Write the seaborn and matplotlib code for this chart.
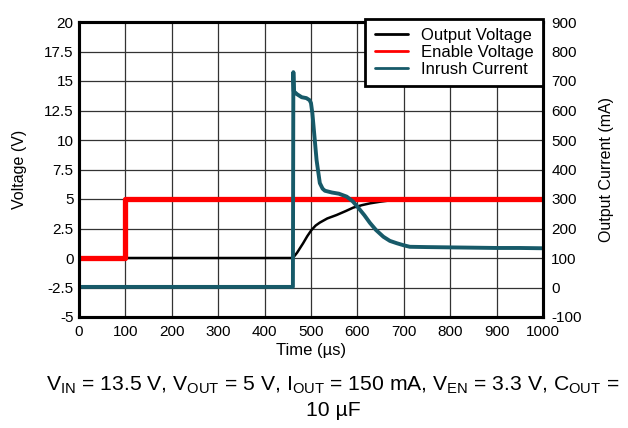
import numpy as np
import pandas as pd
import matplotlib
matplotlib.use("Agg")
import matplotlib.pyplot as plt
import seaborn as sns

# data read from the scope capture
out_t = [0, 461, 470, 483, 492, 501, 510, 519, 535, 555, 575, 591, 610, 627, 649, 670, 700, 1000]
out_v = [0, 0, 0.45, 1.25, 1.85, 2.37, 2.75, 3.0, 3.35, 3.64, 3.98, 4.27, 4.48, 4.63, 4.77, 4.88, 4.95, 4.97]

en_t = [0, 100, 100, 1000]
en_v = [0.03, 0.03, 5.0, 5.0]

inr_t = [0, 461, 462, 463, 470, 480, 490, 497, 500, 503, 507, 512, 519, 525, 530, 545, 560, 577,
         590, 600, 615, 627, 640, 656, 670, 685, 700, 713, 750, 800, 850, 900, 950, 1000]
inr_i = [2, 2, 730, 665, 655, 645, 642, 635, 625, 590, 520, 432, 354, 335, 328, 322, 318, 308,
         292, 274, 245, 219, 195, 172, 158, 150, 143, 138, 137, 136, 135, 134, 134, 133]

v_ticks = [20, 17.5, 15, 12.5, 10, 7.5, 5, 2.5, 0, -2.5, -5]
i_ticks = [900, 800, 700, 600, 500, 400, 300, 200, 100, 0, -100]
t_ticks = list(range(0, 1001, 100))

sns.set_theme(style="white")
plt.rcParams["font.family"] = ["Liberation Sans", "DejaVu Sans"]
plt.rcParams["mathtext.fontset"] = "custom"
plt.rcParams["mathtext.rm"] = "Liberation Sans"
plt.rcParams["mathtext.it"] = "Liberation Sans"
plt.rcParams["text.color"] = "black"
plt.rcParams["axes.labelcolor"] = "black"
plt.rcParams["xtick.color"] = "black"
plt.rcParams["ytick.color"] = "black"
plt.rcParams["axes.unicode_minus"] = False

fig = plt.figure(figsize=(6.28, 4.28), dpi=100)
ax = fig.add_axes([79 / 628, 1 - 317 / 428, (543 - 79) / 628, (317 - 22) / 428])
ax2 = ax.twinx()

teal = "#175a69"
sns.lineplot(x=out_t, y=out_v, ax=ax, color="black", lw=1.8, estimator=None, sort=False, label="Output Voltage")
sns.lineplot(x=en_t, y=en_v, ax=ax, color="#ff0000", lw=3.8, estimator=None, sort=False, label="Enable Voltage")
sns.lineplot(x=inr_t, y=inr_i, ax=ax2, color=teal, lw=2.8, estimator=None, sort=False, label="Inrush Current")

ax.set_xlim(0, 1000)
ax.set_ylim(-5, 20)
ax2.set_ylim(-100, 900)
ax.set_xticks(t_ticks)
ax.set_yticks(v_ticks)
ax.set_yticklabels([f"{v:g}" for v in v_ticks])
ax2.set_yticks(i_ticks)
ax.grid(True, color="#333333", lw=0.9)
ax.set_axisbelow(True)
for a in (ax, ax2):
    a.tick_params(length=0, labelsize=11)
    for s in a.spines.values():
        s.set_color("black")
        s.set_linewidth(2.2)
ax.tick_params(axis="x", pad=6)
ax.tick_params(axis="y", pad=4)
ax2.tick_params(axis="y", pad=6)

ax.set_xlabel("Time (µs)", fontsize=12, labelpad=3)
ax.set_ylabel("Voltage (V)", fontsize=11.5, labelpad=12)
ax2.set_ylabel("Output Current (mA)", fontsize=11.5, labelpad=12)

h1, l1 = ax.get_legend_handles_labels()
h2, l2 = ax2.get_legend_handles_labels()
ax.get_legend().remove()
leg = ax2.legend(h1 + h2, l1 + l2, loc="upper right", fontsize=12, fancybox=False,
                 framealpha=1, borderaxespad=0, handlelength=2.0, labelspacing=0.1,
                 borderpad=0.55, bbox_to_anchor=(1.0, 1.01))
leg.get_frame().set_edgecolor("black")
leg.get_frame().set_linewidth(2)
for line in leg.get_lines():
    line.set_linewidth(2)

fig.text(333 / 628, 1 - 385 / 428,
         "V$_{\\mathrm{IN}}$ = 13.5 V, V$_{\\mathrm{OUT}}$ = 5 V, I$_{\\mathrm{OUT}}$ = 150 mA, "
         "V$_{\\mathrm{EN}}$ = 3.3 V, C$_{\\mathrm{OUT}}$ =",
         ha="center", va="center", fontsize=15.2)
fig.text(333 / 628, 1 - 411 / 428, "10 µF", ha="center", va="center", fontsize=15.2)

fig.savefig("out.png", dpi=100)
